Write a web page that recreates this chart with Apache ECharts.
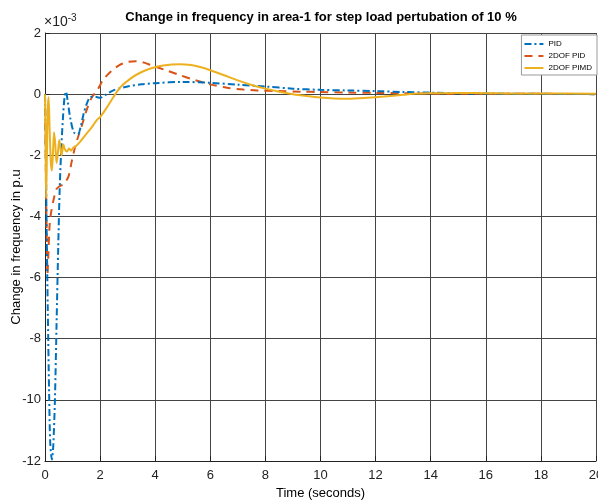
<!DOCTYPE html>
<html><head><meta charset="utf-8">
<script src="https://cdn.jsdelivr.net/npm/echarts@6/dist/echarts.min.js"></script>
<style>html,body{margin:0;padding:0;background:#fff}#c{width:598px;height:504px}</style>
</head><body><div id="c"></div>
<script>
// values in units of 1e-3 p.u.
const pidT = [0,0.03,0.06,0.1,0.15,0.19,0.25,0.3,0.36,0.42,0.48,0.53,0.58,0.65,0.71,0.76,0.82,0.92,1.05,1.19,1.3,1.4,1.5,1.64,1.8,2.0,2.2,2.5,3.0,3.5,4.0,5.0,6.0,7.0,8.0,9.0,10,11,12,13,14,15,16,18,20];
const pidY = [0,-2,-4.4,-7,-9.8,-11.4,-11.95,-11.5,-10,-7.5,-5,-3.2,-2.0,-0.8,-0.1,0.08,-0.2,-0.8,-1.25,-1.32,-1.05,-0.65,-0.35,-0.1,-0.08,-0.12,-0.02,0.13,0.25,0.32,0.36,0.4,0.37,0.31,0.25,0.18,0.14,0.12,0.1,0.07,0.05,0.03,0.02,0.01,0];
const dofPidT = [0,0.03,0.06,0.09,0.12,0.16,0.2,0.3,0.42,0.55,0.67,0.85,0.97,1.1,1.2,1.33,1.5,1.7,1.88,2.1,2.4,2.7,3.0,3.3,3.6,3.9,4.4,4.9,5.45,6.0,6.6,7.2,7.7,8.5,9.3,10,11,12,13,14,16,18,20];
const dofPidY = [0,-2.5,-4.5,-5.9,-5.3,-4.4,-4.0,-3.5,-3.1,-3.0,-2.95,-2.7,-2.2,-1.7,-1.4,-1.05,-0.55,-0.1,0.1,0.45,0.75,0.95,1.05,1.08,1.03,0.93,0.78,0.62,0.46,0.32,0.21,0.15,0.12,0.1,0.08,0.07,0.05,0.04,0.03,0.02,0.01,0.01,0];
const pimdT = [0,0.02,0.04,0.07,0.1,0.13,0.17,0.21,0.25,0.29,0.33,0.37,0.42,0.47,0.52,0.56,0.6,0.64,0.67,0.72,0.8,0.87,0.95,1.02,1.1,1.27,1.5,1.7,1.88,2.0,2.2,2.48,2.73,3.09,3.45,3.8,4.18,4.6,4.9,5.3,5.7,6.1,6.5,7.0,7.5,8.0,8.5,9.0,9.5,10,10.5,11,11.7,12.3,13,13.5,14,15,16,17,18,20];
const pimdY = [0,-1.5,-3.4,-2.0,-0.5,-0.1,-1.2,-2.2,-2.5,-1.9,-1.25,-1.6,-2.25,-1.9,-1.5,-1.75,-2.0,-1.8,-1.65,-1.8,-1.88,-1.78,-1.85,-1.75,-1.72,-1.56,-1.3,-1.08,-0.85,-0.75,-0.5,-0.1,0.22,0.5,0.7,0.83,0.92,0.97,0.98,0.95,0.87,0.75,0.62,0.45,0.3,0.18,0.08,0.0,-0.06,-0.11,-0.14,-0.15,-0.12,-0.08,-0.02,0.02,0.03,0.04,0.03,0.02,0.02,0.01];
const seriesNames = ['PID','2DOF PID','2DOF PIMD'];
const xTicks = [0,2,4,6,8,10,12,14,16,18,20];
const yTicks = [-12,-10,-8,-6,-4,-2,0,2];

const FONT = 'Liberation Sans, Arial, sans-serif';
const zip = (t, y) => t.map((v, i) => [v, y[i]]);
const chart = echarts.init(document.getElementById('c'));
chart.setOption({
  animation: false,
  backgroundColor: '#fff',
  textStyle: { fontFamily: FONT },
  title: {
    text: 'Change in frequency in area-1 for step load pertubation of 10 %',
    left: 316, top: 6, textAlign: 'center',
    textStyle: { fontFamily: FONT, fontWeight: 'bold', fontSize: 13, color: '#000' }
  },
  legend: {
    orient: 'vertical', right: 1, top: 35,
    backgroundColor: '#fff', borderColor: '#999', borderWidth: 1,
    padding: [5, 5, 3, 2], itemGap: 4, itemWidth: 19, itemHeight: 8,
    itemStyle: { opacity: 0 },
    textStyle: { fontFamily: FONT, fontSize: 8, color: '#000' },
    data: seriesNames
  },
  grid: { left: 45, right: 2, top: 33, bottom: 43, containLabel: false, outerBoundsMode: 'none' },
  xAxis: {
    type: 'value', min: xTicks[0], max: xTicks[xTicks.length - 1], interval: 2,
    name: 'Time (seconds)', nameLocation: 'middle', nameGap: 26,
    nameTextStyle: { fontFamily: FONT, fontSize: 13, color: '#000' },
    axisLine: { onZero: false, lineStyle: { color: '#222', width: 1 } },
    axisTick: { inside: true, length: 5, lineStyle: { color: '#222' } },
    axisLabel: { fontFamily: FONT, fontSize: 13, color: '#222', margin: 8, showMaxLabel: true, hideOverlap: false },
    splitLine: { show: true, lineStyle: { color: '#444', width: 1 } }
  },
  yAxis: {
    type: 'value', min: yTicks[0], max: yTicks[yTicks.length - 1], interval: 2,
    name: 'Change in frequency in p.u', nameLocation: 'middle', nameGap: 22, nameMoveOverlap: false,
    nameTextStyle: { fontFamily: FONT, fontSize: 13, color: '#000' },
    axisLine: { show: true, onZero: false, lineStyle: { color: '#222', width: 1 } },
    axisTick: { show: true, inside: true, length: 5, lineStyle: { color: '#222' } },
    axisLabel: { fontFamily: FONT, fontSize: 13, color: '#222', margin: 4 },
    splitLine: { show: true, lineStyle: { color: '#444', width: 1 } }
  },
  graphic: [{
    type: 'text', left: 44, top: 13,
    style: {
      text: '{a|\u00d710}{b|-3}',
      rich: {
        a: { fontFamily: FONT, fontSize: 14, fill: '#222' },
        b: { fontFamily: FONT, fontSize: 10, fill: '#222', verticalAlign: 'top', padding: [0, 0, 8, 0] }
      }
    }
  }],
  series: [
    { name: seriesNames[0], type: 'line', symbol: 'none', smooth: 0.3, data: zip(pidT, pidY),
      lineStyle: { color: '#0072BD', width: 2, type: [7, 3, 2, 3] }, itemStyle: { color: '#0072BD' }, z: 3 },
    { name: seriesNames[1], type: 'line', symbol: 'none', smooth: 0.3, data: zip(dofPidT, dofPidY),
      lineStyle: { color: '#D95319', width: 2, type: [8, 6] }, itemStyle: { color: '#D95319' }, z: 2 },
    { name: seriesNames[2], type: 'line', symbol: 'none', smooth: 0.3, data: zip(pimdT, pimdY),
      lineStyle: { color: '#EDB120', width: 2 }, itemStyle: { color: '#EDB120' }, z: 4 }
  ]
});
</script></body></html>
